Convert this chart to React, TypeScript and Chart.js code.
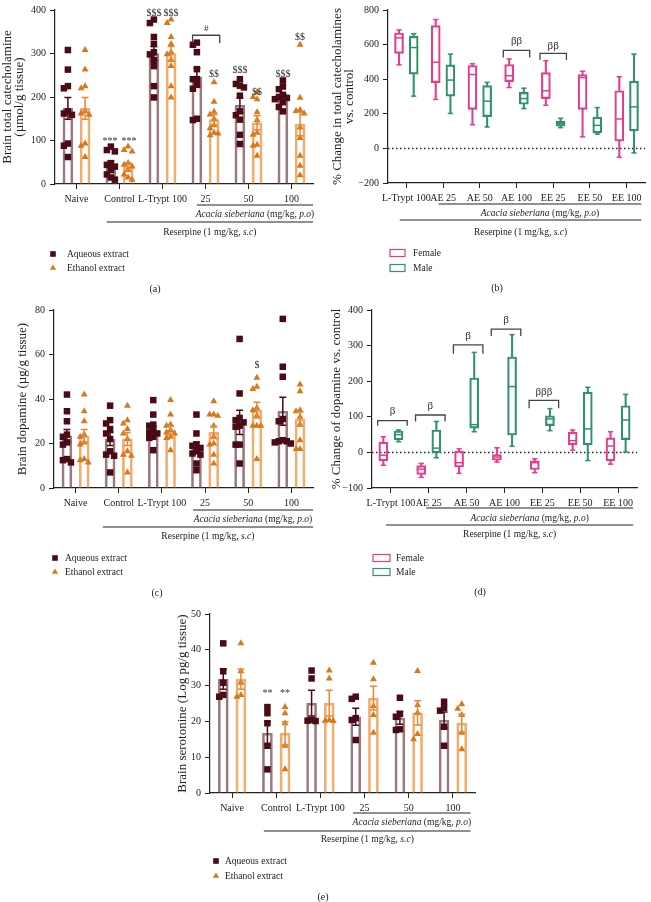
import React, { useEffect, useRef } from 'react';
import { Chart, registerables } from 'chart.js';
Chart.register(...registerables);

const SERIF = '"Liberation Serif", "Times New Roman", serif';

// ---------- shared labels ----------
const groupLabels = ['Naive', 'Control', 'L-Trypt 100', '25', '50', '100'];
const boxLabels = ['L-Trypt 100', 'AE 25', 'AE 50', 'AE 100', 'EE 25', 'EE 50', 'EE 100'];

// ---------- (a) total catecholamine (µmol/g tissue) ----------
const cateAqPoints = [
  [308, 263, 225, 220, 167, 162, 159, 93, 88, 62],
  [86, 78, 75, 48, 44, 40, 32, 22, 15, 10],
  [378, 370, 338, 322, 303, 298, 285, 271, 225, 199],
  [325, 320, 303, 264, 241, 241, 228, 219, 150, 147],
  [241, 230, 226, 222, 203, 167, 158, 148, 113, 92],
  [238, 224, 218, 205, 200, 198, 195, 188, 177, 167],
];
const cateEtPoints = [
  [308, 263, 225, 220, 167, 162, 159, 93, 88, 62],
  [86, 78, 75, 48, 44, 40, 32, 22, 15, 10],
  [378, 370, 338, 322, 303, 298, 285, 271, 225, 199],
  [234, 189, 166, 160, 150, 135, 128, 118, 116, 112],
  [211, 200, 195, 165, 147, 118, 113, 90, 88, 65],
  [320, 198, 170, 168, 162, 130, 106, 65, 42, 20],
];
const cateAqMean = [174, 45, 300, 246, 181, 200];
const cateAqSem = [25, 8, 16, 20, 17, 7];
const cateEtMean = [174, 40, 300, 148, 141, 138];
const cateEtSem = [25, 9, 16, 12, 16, 27];

// ---------- (b) % change total catecholamines: [min, q1, median, q3, max] ----------
const cateFemaleBox = [
  [483, 549, 639, 667, 685],
  [283, 380, 498, 710, 745],
  [137, 226, 427, 479, 489],
  [352, 386, 420, 485, 517],
  [249, 288, 333, 438, 507],
  [67, 226, 410, 427, 446],
  [-51, 43, 170, 333, 414],
];
const cateMaleBox = [
  [302, 429, 583, 648, 663],
  [202, 302, 395, 483, 545],
  [124, 184, 273, 363, 382],
  [230, 255, 288, 324, 348],
  [120, 129, 142, 156, 174],
  [83, 90, 133, 180, 236],
  [-26, 101, 240, 389, 545],
];

// ---------- (c) dopamine (µg/g tissue) ----------
const dopaAqPoints = [
  [42, 34.5, 30, 24, 23, 20.5, 19.5, 13, 12.5, 11.5],
  [37, 30.5, 29, 26.5, 24.5, 22, 16.5, 15, 14.5, 7],
  [39.5, 33, 28.5, 28, 26, 25, 24.5, 23, 22.5, 17],
  [33, 24.5, 19.5, 19, 18, 16.5, 15.5, 15, 11, 8],
  [67, 42.5, 31.5, 30.5, 29.5, 28, 27.5, 19.5, 19.5, 11],
  [76, 54.5, 50, 31, 30, 21.5, 21, 21, 20.5, 20],
];
const dopaEtPoints = [
  [42, 34.5, 30, 24, 23, 20.5, 19.5, 13, 12.5, 11.5],
  [37, 30.5, 29, 26.5, 24.5, 22, 16.5, 15, 14.5, 7],
  [39.5, 33, 28.5, 28, 26, 25, 24.5, 23, 22.5, 17],
  [39, 33, 33, 32.5, 28, 23, 20, 19.5, 15, 11],
  [49.5, 45.5, 44.5, 36, 35, 32.5, 28, 28, 28, 13],
  [46.5, 43.5, 35, 34.5, 32, 28.5, 21.5, 17.5, 17.5],
];
const dopaAqMean = [23.5, 22, 26, 18.5, 29.5, 34.5];
const dopaAqSem = [2.8, 2.9, 1.9, 2.2, 5.5, 6.3];
const dopaEtMean = [23.5, 22, 26, 25, 35, 31];
const dopaEtSem = [2.8, 2.9, 1.9, 2.8, 3.5, 3.2];

// ---------- (d) % change dopamine: [min, q1, median, q3, max] ----------
const dopaFemaleBox = [
  [-36, -24, -8, 29, 44],
  [-70, -62, -47, -37, -31],
  [-59, -41, -29, 4, 10],
  [-27, -22, -13, -6, 13],
  [-57, -48, -29, -24, -18],
  [6, 21, 33, 57, 63],
  [-33, -24, 18, 41, 58],
];
const dopaMaleBox = [
  [30, 35, 50, 60, 63],
  [-15, -1, 12, 63, 87],
  [58, 68, 78, 209, 281],
  [17, 49, 185, 268, 331],
  [61, 75, 94, 103, 123],
  [-23, 21, 66, 169, 183],
  [1, 36, 91, 131, 163],
];

// ---------- (e) serotonine (Log pg/g tissue) ----------
const seroAqPoints = [
  [41.8, 34, 30.8, 27.4, 26.9],
  [24, 22.3, 19.5, 13.2, 6.6],
  [34.2, 32, 20.4, 20.2, 20.1],
  [26.9, 26.3, 20.9, 20.4, 14.8],
  [26.6, 22.1, 21.3, 17.8, 17.6],
  [25.5, 23.8, 23, 18.5, 13.2],
];
const seroEtPoints = [
  [41.8, 34, 30.8, 27.4, 26.9],
  [24, 22.3, 19.5, 13.2, 6.6],
  [34.2, 32, 20.4, 20.2, 20.1],
  [36.4, 31.8, 24.3, 21.8, 16.8],
  [34.1, 24.6, 22.4, 16.5, 15],
  [24.8, 23.5, 21.8, 16.8, 12.2],
];
const seroAqMean = [31.8, 16.7, 25.1, 21.3, 21, 20.4];
const seroAqSem = [2.8, 3.2, 3.6, 2.4, 1.8, 2.2];
const seroEtMean = [31.8, 16.7, 25.1, 26.5, 22.4, 19.5];
const seroEtSem = [2.8, 3.2, 3.6, 3.3, 3.4, 2.5];

// ---------- colours ----------
const AQ_BAR = '#9a7a7f';
const ET_BAR = '#f2ad6a';
const AQ_PT = '#4a0b16';
const ET_PT = '#d8781c';
const AQ_ERR = '#4a0b16';
const ET_ERR = '#e28a3a';
const FEMALE = '#e63c8c';
const MALE = '#2f9170';
const INK = '#222';

type Rich = [string, boolean][];
const acaciaText: Rich = [['Acacia sieberiana', true], [' (mg/kg, ', false], ['p.o', true], [')', false]];
const reserpineText: Rich = [['Reserpine (1 mg/kg, ', false], ['s.c', true], [')', false]];

function drawRich(ctx: CanvasRenderingContext2D, parts: Rich, cx: number, cy: number, size: number) {
  const fontOf = (it: boolean) => `${it ? 'italic ' : ''}${size}px ${SERIF}`;
  let total = 0;
  for (const [t, it] of parts) { ctx.font = fontOf(it); total += ctx.measureText(t).width; }
  let x = cx - total / 2;
  ctx.textAlign = 'left';
  ctx.textBaseline = 'middle';
  for (const [t, it] of parts) { ctx.font = fontOf(it); ctx.fillText(t, x, cy); x += ctx.measureText(t).width; }
}

function swarmOffsets(vals: number[], pxPerUnit: number, stepUnits: number) {
  const placed: { v: number; c: number }[] = [];
  const out: number[] = [];
  const cols = [0, -1, 1, -2, 2, -3, 3];
  for (const v of vals) {
    let col = 0;
    for (const c of cols) {
      if (placed.every((p) => p.c !== c || Math.abs(p.v - v) * pxPerUnit >= 5.5)) { col = c; break; }
    }
    placed.push({ v, c: col });
    out.push(col * stepUnits);
  }
  return out;
}

function xAxis(labels: string[], h: number) {
  return {
    type: 'linear',
    min: -0.5,
    max: labels.length - 0.5,
    offset: false,
    afterBuildTicks: (s: any) => { s.ticks = labels.map((_, i) => ({ value: i })); },
    afterFit: (s: any) => { s.height = h; },
    ticks: {
      stepSize: 1,
      callback: (v: any) => labels[v] ?? '',
      autoSkip: false, maxRotation: 0, minRotation: 0, padding: 4,
      color: INK, font: { size: 10, family: SERIF },
    },
    grid: { display: true, offset: false, drawOnChartArea: false, drawTicks: true, tickLength: 5, color: INK, lineWidth: 1 },
    border: { display: true, color: INK, width: 1.2 },
  };
}

function yAxis(min: number, max: number, step: number, w: number, title: string | string[], pad: number) {
  return {
    type: 'linear', min, max,
    afterFit: (s: any) => { s.width = w; },
    ticks: {
      stepSize: step, padding: 4, color: INK, font: { size: 10, family: SERIF },
      callback: (v: any) => String(v).replace('-', '\u2212'),
    },
    grid: { display: true, drawOnChartArea: false, drawTicks: true, tickLength: 5, color: INK, lineWidth: 1 },
    border: { display: true, color: INK, width: 1.2 },
    title: { display: true, text: title, color: INK, font: { size: 13, family: SERIF, lineHeight: 0.95 }, padding: { top: pad, bottom: 0 } },
  };
}

function annotPlugin(s: any) {
  return {
    id: 'annot',
    afterDatasetsDraw(chart: any) {
      const { ctx } = chart;
      const x = chart.scales.x, y = chart.scales.y;
      ctx.save();
      // error bars
      (s.errors || []).forEach((e: any) => {
        ctx.strokeStyle = e.color; ctx.lineWidth = 1.5;
        e.means.forEach((m: number, i: number) => {
          const px = x.getPixelForValue(i + e.off);
          const y1 = y.getPixelForValue(m - e.sems[i]);
          const y2 = y.getPixelForValue(m + e.sems[i]);
          ctx.beginPath();
          ctx.moveTo(px, y1); ctx.lineTo(px, y2);
          ctx.moveTo(px - 3.5, y1); ctx.lineTo(px + 3.5, y1);
          ctx.moveTo(px - 3.5, y2); ctx.lineTo(px + 3.5, y2);
          ctx.stroke();
        });
      });
      // significance marks
      ctx.fillStyle = '#333'; ctx.textAlign = 'center'; ctx.textBaseline = 'middle';
      (s.marks || []).forEach((m: any) => {
        ctx.font = `${m.size || 10}px ${SERIF}`;
        ctx.fillText(m.text, x.getPixelForValue(m.x), y.getPixelForValue(m.y));
      });
      // brackets
      (s.brackets || []).forEach((b: any) => {
        const x1 = x.getPixelForValue(b.x1), x2 = x.getPixelForValue(b.x2);
        const yt = y.getPixelForValue(b.top), yd = y.getPixelForValue(b.drop);
        ctx.strokeStyle = '#444'; ctx.lineWidth = 1.3;
        ctx.beginPath();
        ctx.moveTo(x1, yd); ctx.lineTo(x1, yt); ctx.lineTo(x2, yt); ctx.lineTo(x2, yd);
        ctx.stroke();
        ctx.fillStyle = '#333'; ctx.font = `${b.size || 11}px ${SERIF}`;
        ctx.textAlign = 'center'; ctx.textBaseline = 'middle';
        ctx.fillText(b.label, (x1 + x2) / 2, y.getPixelForValue(b.ly));
      });
      ctx.restore();
    },
    afterDraw(chart: any) {
      const { ctx, chartArea } = chart;
      const x = chart.scales.x;
      const L = chartArea.left, B = chartArea.bottom;
      ctx.save();
      ctx.fillStyle = INK; ctx.strokeStyle = INK;
      // group lines
      (s.lines || []).forEach((g: any) => {
        const x1 = x.getPixelForValue(g.x1), x2 = x.getPixelForValue(g.x2);
        ctx.lineWidth = 1.1; ctx.strokeStyle = INK;
        ctx.beginPath(); ctx.moveTo(x1, B + g.dy); ctx.lineTo(x2, B + g.dy); ctx.stroke();
        ctx.fillStyle = INK;
        drawRich(ctx, g.text, (x1 + x2) / 2, B + g.tdy, 9.5);
      });
      // legend
      const lg = s.legend;
      if (lg) {
        ctx.font = `9.5px ${SERIF}`; ctx.textAlign = 'left'; ctx.textBaseline = 'middle';
        if (lg.kind === 'points') {
          const mx = L + lg.mx;
          ctx.fillStyle = AQ_PT; ctx.fillRect(mx - 2.8, B + lg.y1 - 2.8, 5.6, 5.6);
          ctx.fillStyle = ET_PT; ctx.beginPath();
          const ty = B + lg.y2, r = 3.6;
          ctx.moveTo(mx, ty - r); ctx.lineTo(mx + r * 0.866, ty + r * 0.5); ctx.lineTo(mx - r * 0.866, ty + r * 0.5); ctx.closePath(); ctx.fill();
          ctx.fillStyle = INK;
          ctx.fillText('Aqueous extract', L + lg.tx, B + lg.y1);
          ctx.fillText('Ethanol extract', L + lg.tx, B + lg.y2);
        } else {
          ctx.lineWidth = 1.2;
          ctx.strokeStyle = FEMALE; ctx.strokeRect(L + lg.mx, B + lg.y1 - 3.5, lg.mw, 7);
          ctx.strokeStyle = MALE; ctx.strokeRect(L + lg.mx, B + lg.y2 - 3.5, lg.mw, 7);
          ctx.fillStyle = INK;
          ctx.fillText('Female', L + lg.tx, B + lg.y1);
          ctx.fillText('Male', L + lg.tx, B + lg.y2);
        }
      }
      // caption
      ctx.fillStyle = INK; ctx.font = `10px ${SERIF}`; ctx.textAlign = 'center'; ctx.textBaseline = 'middle';
      ctx.fillText(s.caption.text, s.caption.x, s.caption.y);
      ctx.restore();
    },
  };
}

const OFF = 0.2;

function buildBarConfig(s: any) {
  const pxPerUnit = (s.B - s.T) / (s.yMax - s.yMin);
  const stepUnits = 4 / ((s.R - s.L) / groupLabels.length);
  const ptsData = (pts: number[][], off: number) =>
    pts.flatMap((arr, i) => {
      const j = swarmOffsets(arr, pxPerUnit, stepUnits);
      return arr.map((v, k) => ({ x: i + off + j[k], y: v }));
    });
  const datasets: any[] = [
    { type: 'scatter', data: ptsData(s.aqPts, -OFF), pointStyle: 'rect', pointRadius: 4.6, pointBackgroundColor: AQ_PT, pointBorderWidth: 0, order: 1 },
    { type: 'scatter', data: ptsData(s.etPts, OFF), pointStyle: 'triangle', pointRadius: 4, pointBackgroundColor: ET_PT, pointBorderWidth: 0, order: 1 },
    { type: 'bar', data: s.aqMean.map((m: number, i: number) => ({ x: i - OFF, y: m })), grouped: false, barThickness: 10, borderWidth: 2, borderColor: AQ_BAR, backgroundColor: 'rgba(255,255,255,0)', borderSkipped: 'start', order: 2 },
    { type: 'bar', data: s.etMean.map((m: number, i: number) => ({ x: i + OFF, y: m })), grouped: false, barThickness: 10, borderWidth: 2, borderColor: ET_BAR, backgroundColor: 'rgba(255,255,255,0)', borderSkipped: 'start', order: 2 },
  ];
  const spec = {
    ...s,
    errors: [
      { means: s.aqMean, sems: s.aqSem, off: -OFF, color: AQ_ERR },
      { means: s.etMean, sems: s.etSem, off: OFF, color: ET_ERR },
    ],
  };
  return {
    type: 'bar',
    data: { datasets },
    options: {
      animation: false, responsive: false, devicePixelRatio: 1, events: [],
      layout: { padding: { top: s.T, right: s.w - s.R, left: 0, bottom: 0 } },
      plugins: { legend: { display: false }, tooltip: { enabled: false } },
      scales: { x: xAxis(groupLabels, s.h - s.B), y: yAxis(s.yMin, s.yMax, s.yStep, s.L, s.yTitle, s.yPad) },
    },
    plugins: [annotPlugin(spec)],
  };
}

function buildBoxConfig(s: any) {
  const datasets: any[] = [];
  const add = (stats: number[][], off: number, color: string) => {
    datasets.push({ type: 'bar', data: stats.map((b, i) => ({ x: i + off, y: [b[0], b[1]] })), grouped: false, barThickness: 1.4, backgroundColor: color, borderWidth: 0, order: 3 });
    datasets.push({ type: 'bar', data: stats.map((b, i) => ({ x: i + off, y: [b[3], b[4]] })), grouped: false, barThickness: 1.4, backgroundColor: color, borderWidth: 0, order: 3 });
    datasets.push({ type: 'bar', data: stats.map((b, i) => ({ x: i + off, y: [b[1], b[3]] })), grouped: false, barThickness: 9, backgroundColor: 'rgba(255,255,255,0)', borderColor: color, borderWidth: 1.5, borderSkipped: false, order: 2 });
    datasets.push({ type: 'scatter', data: stats.map((b, i) => ({ x: i + off, y: b[2] })), pointStyle: 'line', pointRadius: 4.5, pointBorderColor: color, pointBorderWidth: 1.5, order: 1 });
    datasets.push({ type: 'scatter', data: stats.flatMap((b, i) => [{ x: i + off, y: b[0] }, { x: i + off, y: b[4] }]), pointStyle: 'line', pointRadius: 2.6, pointBorderColor: color, pointBorderWidth: 1.5, order: 1 });
  };
  add(s.female, -OFF, FEMALE);
  add(s.male, OFF, MALE);
  datasets.push({ type: 'line', data: [{ x: -0.5, y: 0 }, { x: boxLabels.length - 0.5, y: 0 }], borderColor: INK, borderDash: [1.5, 2.5], borderWidth: 1.5, pointRadius: 0, order: 5 });
  return {
    type: 'bar',
    data: { datasets },
    options: {
      animation: false, responsive: false, devicePixelRatio: 1, events: [],
      layout: { padding: { top: s.T, right: s.w - s.R, left: 0, bottom: 0 } },
      plugins: { legend: { display: false }, tooltip: { enabled: false } },
      scales: { x: xAxis(boxLabels, s.h - s.B), y: yAxis(s.yMin, s.yMax, s.yStep, s.L, s.yTitle, s.yPad) },
    },
    plugins: [annotPlugin(s)],
  };
}

// ---------- panel specs (layout) ----------
const panelA = {
  left: 0, top: 0, w: 330, h: 300, L: 55, T: 5, R: 313, B: 184,
  yMin: 0, yMax: 400, yStep: 100, yTitle: ['Brain total catecholamine', '(µmol/g tissue)'], yPad: 1,
  aqPts: cateAqPoints, etPts: cateEtPoints, aqMean: cateAqMean, aqSem: cateAqSem, etMean: cateEtMean, etSem: cateEtSem,
  marks: [
    { text: '***', x: 0.78, y: 97, size: 10 }, { text: '***', x: 1.22, y: 97, size: 10 },
    { text: '$$$', x: 1.8, y: 393 }, { text: '$$$', x: 2.2, y: 393 },
    { text: '$$', x: 3.2, y: 251 }, { text: '$$$', x: 3.8, y: 262 }, { text: '$$', x: 4.2, y: 211 },
    { text: '$$$', x: 4.8, y: 253 }, { text: '$$', x: 5.2, y: 337 },
  ],
  brackets: [{ x1: 2.7, x2: 3.33, top: 342, drop: 324, label: '#', ly: 358, size: 9 }],
  lines: [
    { x1: 2.8, x2: 5.5, dy: 21, tdy: 30, text: acaciaText },
    { x1: 0.7, x2: 5.5, dy: 38, tdy: 48, text: reserpineText },
  ],
  legend: { kind: 'points', mx: -2, tx: 12, y1: 70, y2: 84 },
  caption: { text: '(a)', x: 155, y: 289 },
};

const panelB = {
  left: 330, top: 0, w: 321, h: 300, L: 58, T: 5, R: 321, B: 183,
  yMin: -200, yMax: 800, yStep: 200, yTitle: ['% Change in total catecholamines', 'vs. control'], yPad: 1,
  female: cateFemaleBox, male: cateMaleBox,
  brackets: [
    { x1: 2.64, x2: 3.36, top: 567, drop: 526, label: 'ββ', ly: 620 },
    { x1: 3.64, x2: 4.36, top: 549, drop: 511, label: 'ββ', ly: 594 },
  ],
  lines: [
    { x1: 0.88, x2: 6.4, dy: 21, tdy: 30, text: acaciaText },
    { x1: -0.18, x2: 6.4, dy: 37, tdy: 49, text: reserpineText },
  ],
  legend: { kind: 'boxes', mx: 2, mw: 15, tx: 25, y1: 70, y2: 85 },
  caption: { text: '(b)', x: 167, y: 288 },
};

const panelC = {
  left: 0, top: 300, w: 330, h: 300, L: 54, T: 10, R: 313, B: 188,
  yMin: 0, yMax: 80, yStep: 20, yTitle: 'Brain dopamine (µg/g tissue)', yPad: 16,
  aqPts: dopaAqPoints, etPts: dopaEtPoints, aqMean: dopaAqMean, aqSem: dopaAqSem, etMean: dopaEtMean, etSem: dopaEtSem,
  marks: [{ text: '$', x: 4.2, y: 55 }],
  brackets: [],
  lines: [
    { x1: 2.72, x2: 5.5, dy: 22, tdy: 31, text: acaciaText },
    { x1: 0.63, x2: 5.5, dy: 39, tdy: 48, text: reserpineText },
  ],
  legend: { kind: 'points', mx: 1, tx: 11, y1: 70, y2: 84 },
  caption: { text: '(c)', x: 157, y: 293 },
};

const panelD = {
  left: 330, top: 300, w: 321, h: 300, L: 42, T: 8, R: 307, B: 188,
  yMin: -100, yMax: 400, yStep: 100, yTitle: '% Change of dopamine vs. control', yPad: 0,
  female: dopaFemaleBox, male: dopaMaleBox,
  brackets: [
    { x1: -0.35, x2: 0.43, top: 89, drop: 75, label: 'β', ly: 116 },
    { x1: 0.65, x2: 1.43, top: 105, drop: 87, label: 'β', ly: 130 },
    { x1: 1.65, x2: 2.43, top: 302, drop: 277, label: 'β', ly: 328 },
    { x1: 2.65, x2: 3.43, top: 346, drop: 327, label: 'β', ly: 372 },
    { x1: 3.65, x2: 4.43, top: 146, drop: 124, label: 'βββ', ly: 170 },
  ],
  lines: [
    { x1: 0.93, x2: 6.4, dy: 20, tdy: 30, text: acaciaText },
    { x1: -0.13, x2: 6.4, dy: 37, tdy: 46, text: reserpineText },
  ],
  legend: { kind: 'boxes', mx: 1, mw: 17, tx: 24, y1: 70, y2: 84 },
  caption: { text: '(d)', x: 150, y: 292 },
};

const panelE = {
  left: 150, top: 595, w: 350, h: 307, L: 60, T: 19, R: 325, B: 198,
  yMin: 0, yMax: 50, yStep: 10, yTitle: 'Brain serotonine (Log pg/g tissue)', yPad: 26,
  aqPts: seroAqPoints, etPts: seroEtPoints, aqMean: seroAqMean, aqSem: seroAqSem, etMean: seroEtMean, etSem: seroEtSem,
  marks: [{ text: '**', x: 0.8, y: 27.8, size: 10 }, { text: '**', x: 1.2, y: 27.8, size: 10 }],
  brackets: [],
  lines: [
    { x1: 2.74, x2: 5.4, dy: 20, tdy: 29, text: acaciaText },
    { x1: 0.72, x2: 5.4, dy: 38, tdy: 46, text: reserpineText },
  ],
  legend: { kind: 'points', mx: 6, tx: 15, y1: 68, y2: 83 },
  caption: { text: '(e)', x: 173, y: 302 },
};

function Panel({ spec, kind }: { spec: any; kind: 'bar' | 'box' }) {
  const ref = useRef<HTMLCanvasElement>(null);
  useEffect(() => {
    const cfg: any = kind === 'bar' ? buildBarConfig(spec) : buildBoxConfig(spec);
    const chart = new Chart(ref.current as HTMLCanvasElement, cfg);
    return () => chart.destroy();
  }, [spec, kind]);
  return (
    <canvas
      ref={ref}
      width={spec.w}
      height={spec.h}
      style={{ position: 'absolute', left: spec.left, top: spec.top, width: spec.w, height: spec.h }}
    />
  );
}

export default function App() {
  return (
    <div style={{ position: 'absolute', left: 0, top: 0, width: 651, height: 902, background: '#fff', overflow: 'hidden' }}>
      <Panel spec={panelA} kind="bar" />
      <Panel spec={panelB} kind="box" />
      <Panel spec={panelC} kind="bar" />
      <Panel spec={panelD} kind="box" />
      <Panel spec={panelE} kind="bar" />
    </div>
  );
}
